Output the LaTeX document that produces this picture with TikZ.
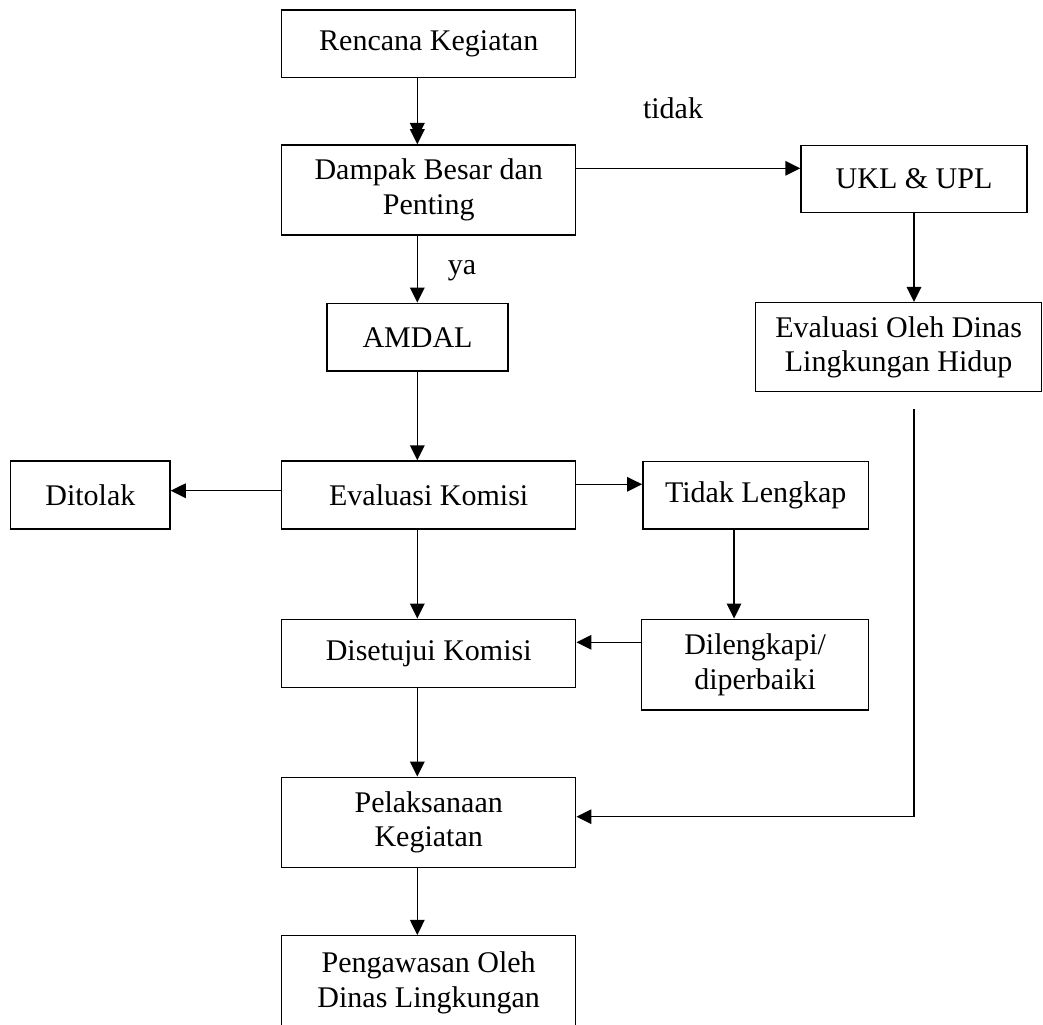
\documentclass[tikz,border=0pt]{standalone}
\usepackage{fontspec}
\setmainfont{Liberation Serif}
\usetikzlibrary{arrows.meta}
\begin{document}
\begin{tikzpicture}[x=0.4pt,y=-0.4pt,
  flowbox/.style={draw, line width=0.6pt, inner sep=0pt, align=center,
                  font=\fontsize{12}{13.8}\selectfont},
  arr/.style={line width=0.6pt, -{Triangle[length=6pt,width=5.8pt]}},
  lbl/.style={font=\fontsize{12}{13.8}\selectfont, inner sep=0pt, anchor=base}]
\useasboundingbox (0,0) rectangle (1043,1024);
\clip (0,0) rectangle (1043,1024);

% process boxes (centre, width, height in px units)
\node[flowbox, minimum width=294*0.4pt, minimum height=67.7*0.4pt] (ren) at (428.7,43.85) {Rencana Kegiatan};
\node[flowbox, minimum width=294*0.4pt, minimum height=90*0.4pt] (dam) at (428.7,190) {Dampak Besar dan\\Penting};
\node[flowbox, minimum width=226*0.4pt, minimum height=67.4*0.4pt] (ukl) at (914,179) {UKL \& UPL};
\node[flowbox, minimum width=181.4*0.4pt, minimum height=67.7*0.4pt] (amd) at (417.5,337.15) {AMDAL};
\node[flowbox, minimum width=285.8*0.4pt, minimum height=89*0.4pt] (evd) at (898.6,347.2) {Evaluasi Oleh Dinas\\Lingkungan Hidup};
\node[flowbox, minimum width=159.3*0.4pt, minimum height=68*0.4pt] (dit) at (90.35,495) {Ditolak};
\node[flowbox, minimum width=294*0.4pt, minimum height=68*0.4pt] (ek) at (428.7,495) {Evaluasi Komisi};
\node[flowbox, minimum width=225.6*0.4pt, minimum height=67.5*0.4pt] (tl) at (755.7,495.25) {Tidak Lengkap};
\node[flowbox, minimum width=294*0.4pt, minimum height=68*0.4pt] (dis) at (428.7,653.3) {Disetujui Komisi};
\node[flowbox, minimum width=226.8*0.4pt, minimum height=90.7*0.4pt] (dil) at (755.1,664.65) {Dilengkapi/\\diperbaiki};
\node[flowbox, minimum width=294*0.4pt, minimum height=90.4*0.4pt] (pel) at (428.7,822.5) {Pelaksanaan\\Kegiatan};
\node[flowbox, minimum width=294*0.4pt, minimum height=94.3*0.4pt] (pen) at (428.7,982.85) {Pengawasan Oleh\\Dinas Lingkungan};

% branch labels
\node[lbl] (tidak) at (673,119) {tidak};
\node[lbl] (ya) at (462,275) {ya};

% routing coordinates
\coordinate (col) at (417.3,0);
\coordinate (tlcol) at (734,0);
\coordinate (rowukl) at (0,168.3);
\coordinate (rowtl) at (0,484.3);
\coordinate (rowdit) at (0,490.7);
\coordinate (rowdil) at (0,642.3);
\coordinate (damtop2) at (417.3,138);
\coordinate (evdgap) at (914,409);
\coordinate (elbow) at (914,816.7);

% connectors
\draw[arr] (col |- ren.south) -- (col |- dam.north);
\draw[arr] (col |- ren.south) -- (damtop2);
\draw[arr] (dam.east |- rowukl) -- (ukl.west |- rowukl);
\draw[arr] (ukl.south) -- (ukl.south |- evd.north);
\draw[arr] (col |- dam.south) -- (col |- amd.north);
\draw[arr] (col |- amd.south) -- (col |- ek.north);
\draw[arr] (ek.west |- rowdit) -- (dit.east |- rowdit);
\draw[arr] (ek.east |- rowtl) -- (tl.west |- rowtl);
\draw[arr] (col |- ek.south) -- (col |- dis.north);
\draw[arr] (tlcol |- tl.south) -- (tlcol |- dil.north);
\draw[arr] (dil.west |- rowdil) -- (dis.east |- rowdil);
\draw[arr] (col |- dis.south) -- (col |- pel.north);
\draw[arr] (evdgap) -- (elbow) -- (elbow -| pel.east);
\draw[arr] (col |- pel.south) -- (col |- pen.north);
\end{tikzpicture}
\end{document}
